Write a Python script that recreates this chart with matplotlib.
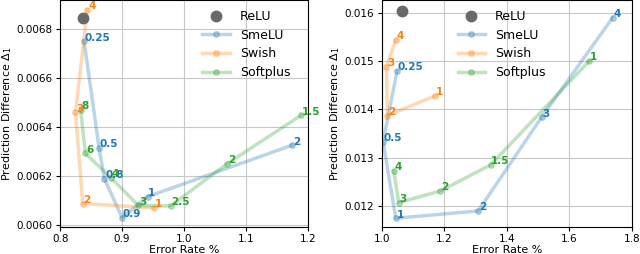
import matplotlib.pyplot as plt
import numpy as np

# left panel
reluL = (0.8376, 0.006845)
smeluL_x = [0.8387, 0.8628, 0.8714, 0.8999, 0.9412, 1.1748]
smeluL_y = [0.006750, 0.006316, 0.006191, 0.006031, 0.006117, 0.006327]
smeluL_lab = ['0.25', '0.5', '0.8', '0.9', '1', '2']
swishL_x = [0.8440, 0.8247, 0.8365, 0.9519]
swishL_y = [0.006879, 0.006461, 0.006089, 0.006071]
swishL_lab = ['4', '3', '2', '1']
softL_x = [0.8330, 0.8408, 0.8821, 0.9262, 0.9783, 1.0700, 1.1893]
softL_y = [0.006472, 0.006293, 0.006194, 0.006081, 0.006079, 0.006252, 0.006449]
softL_lab = ['8', '6', '4', '3', '2.5', '2', '1.5']

# right panel
reluR = (1.0642, 0.016050)
smeluR_x = [1.0481, 1.0032, 1.0439, 1.3080, 1.5112, 1.7390]
smeluR_y = [0.014802, 0.013331, 0.011736, 0.011889, 0.013838, 0.015911]
smeluR_lab = ['0.25', '0.5', '1', '2', '3', '4']
swishR_x = [1.0439, 1.0139, 1.0171, 1.1711]
swishR_y = [0.015447, 0.014892, 0.013872, 0.014288]
swishR_lab = ['4', '3', '2', '1']
softR_x = [1.0374, 1.0535, 1.1872, 1.3476, 1.6642]
softR_y = [0.012721, 0.012062, 0.012305, 0.012846, 0.015010]
softR_lab = ['4', '3', '2', '1.5', '1']

fig = plt.figure(figsize=(6.4, 2.54), dpi=100)
axL = fig.add_axes([0.094, 0.108, 0.387, 0.892])
axR = fig.add_axes([0.597, 0.108, 0.390, 0.892])


def draw(ax, relu, series, legend_anchor):
    ax.plot([relu[0]], [relu[1]], 'o', color='dimgray', ms=7.5, label='ReLU', zorder=5)
    for (xs, ys, labs, c, name) in series:
        ax.plot(xs, ys, '-o', color=c, alpha=0.3, lw=2.5, ms=4, label=name)
        for x, y, t in zip(xs, ys, labs):
            ax.annotate(t, (x, y), xytext=(0.5, 2.5), textcoords='offset points',
                        ha='left', va='center', color=c, fontsize=7.5,
                        fontweight='bold', annotation_clip=False)
    ax.grid(True, color='#c8c8c8', lw=0.8)
    ax.set_axisbelow(True)
    ax.tick_params(labelsize=7.5, length=3, pad=2.5)
    ax.set_xlabel('Error Rate %', fontsize=8, labelpad=0.5)
    ax.set_ylabel(r'Prediction Difference $\Delta_1$', fontsize=8, labelpad=2)
    ax.legend(loc='upper right', bbox_to_anchor=legend_anchor, frameon=False,
              fontsize=9, handlelength=2.2, borderaxespad=0.4, labelspacing=0.45)


draw(axL, reluL, [
    (smeluL_x, smeluL_y, smeluL_lab, 'C0', 'SmeLU'),
    (swishL_x, swishL_y, swishL_lab, 'C1', 'Swish'),
    (softL_x, softL_y, softL_lab, 'C2', 'Softplus'),
], (0.97, 1.0))
axL.set_xlim(0.8, 1.2)
axL.set_ylim(0.005995, 0.006919)
axL.set_xticks([0.8, 0.9, 1.0, 1.1, 1.2])
axL.set_yticks([0.0060, 0.0062, 0.0064, 0.0066, 0.0068])

draw(axR, reluR, [
    (smeluR_x, smeluR_y, smeluR_lab, 'C0', 'SmeLU'),
    (swishR_x, swishR_y, swishR_lab, 'C1', 'Swish'),
    (softR_x, softR_y, softR_lab, 'C2', 'Softplus'),
], (0.695, 1.0))
axR.set_xlim(1.0, 1.8)
axR.set_ylim(0.011563, 0.016279)
axR.set_xticks([1.0, 1.2, 1.4, 1.6, 1.8])
axR.set_yticks([0.012, 0.013, 0.014, 0.015, 0.016])

plt.savefig('out.png', dpi=100)
